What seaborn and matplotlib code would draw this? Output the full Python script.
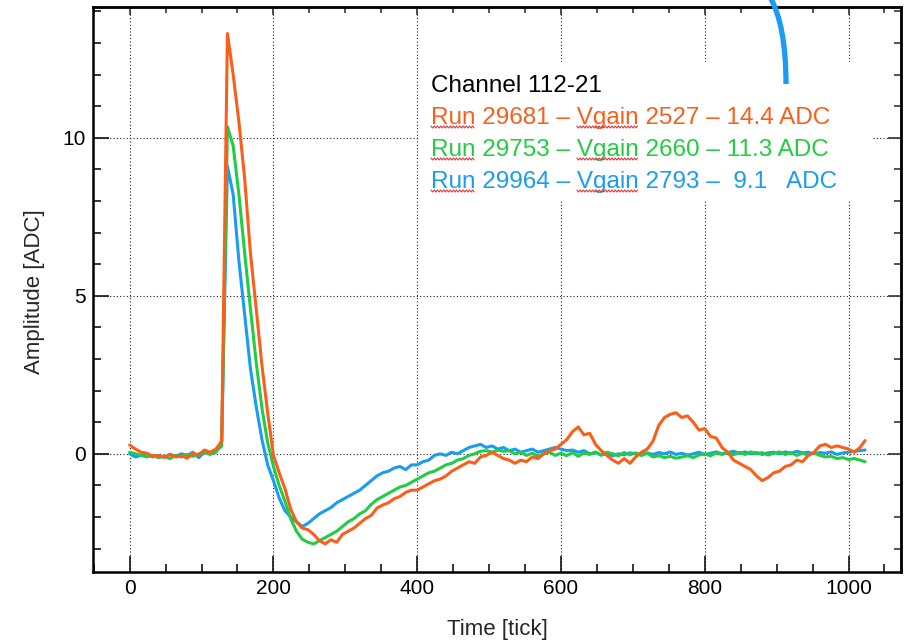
import numpy as np
import pandas as pd
import seaborn as sns
import matplotlib.pyplot as plt
from matplotlib.ticker import MultipleLocator
from matplotlib.lines import Line2D
from matplotlib.patches import Rectangle, PathPatch
from matplotlib.path import Path
from matplotlib.transforms import IdentityTransform

# sampled every 8 ticks, plus the last tick (1023)
tick = np.append(np.arange(0, 1024, 8), 1023)

amp_29681 = [
    0.28, 0.15, 0.05, 0.02, -0.08, -0.05, -0.12, -0.02,
    -0.10, -0.06, -0.14, 0.02, -0.04, 0.12, 0.05, 0.15,
    0.40, 13.30, 12.00, 10.50, 8.70, 6.35, 4.60, 2.80,
    1.30, -0.05, -0.60, -1.10, -1.75, -2.15, -2.35, -2.40,
    -2.55, -2.75, -2.85, -2.72, -2.80, -2.55, -2.45, -2.35,
    -2.20, -2.05, -1.95, -1.72, -1.62, -1.55, -1.42, -1.35,
    -1.22, -1.15, -1.15, -1.05, -0.95, -0.85, -0.80, -0.70,
    -0.55, -0.45, -0.35, -0.25, -0.30, -0.10, -0.05, 0.05,
    -0.05, -0.15, -0.20, -0.30, -0.20, -0.25, -0.10, -0.15,
    0.00, 0.10, 0.15, 0.30, 0.45, 0.70, 0.85, 0.60,
    0.65, 0.30, 0.10, -0.05, -0.20, -0.30, -0.15, -0.30,
    -0.10, 0.05, 0.15, 0.40, 0.90, 1.15, 1.25, 1.30,
    1.15, 1.20, 1.00, 0.75, 0.80, 0.55, 0.50, 0.20,
    0.05, -0.20, -0.30, -0.40, -0.50, -0.70, -0.85, -0.75,
    -0.60, -0.55, -0.40, -0.35, -0.20, -0.25, -0.05, 0.05,
    0.25, 0.30, 0.20, 0.25, 0.20, 0.15, 0.05, 0.20,
    0.42,
]
amp_29753 = [
    0.05, 0.00, -0.05, -0.10, -0.05, -0.12, -0.08, -0.15,
    -0.05, -0.10, -0.02, -0.08, 0.00, 0.05, -0.02, 0.08,
    0.25, 10.35, 9.75, 8.20, 6.35, 4.60, 2.90, 1.45,
    0.35, -0.40, -1.00, -1.50, -2.05, -2.45, -2.70, -2.80,
    -2.85, -2.75, -2.65, -2.55, -2.45, -2.30, -2.15, -2.05,
    -1.90, -1.80, -1.60, -1.45, -1.35, -1.25, -1.15, -1.05,
    -1.00, -0.90, -0.80, -0.70, -0.60, -0.55, -0.45, -0.35,
    -0.30, -0.20, -0.15, -0.05, 0.00, 0.08, 0.10, 0.05,
    0.12, 0.08, 0.10, 0.00, 0.05, -0.05, 0.02, -0.08,
    0.00, 0.05, -0.05, 0.02, -0.06, 0.04, -0.08, 0.03,
    -0.02, 0.06, -0.04, 0.05, 0.00, -0.06, 0.04, -0.03,
    0.03, -0.05, 0.02, -0.10, -0.06, -0.12, -0.08, -0.14,
    -0.10, -0.06, -0.12, -0.04, 0.00, -0.06, 0.03, -0.02,
    0.04, -0.03, 0.05, -0.02, 0.06, 0.00, 0.04, -0.04,
    0.02, 0.06, -0.02, 0.04, -0.05, 0.02, -0.04, 0.03,
    -0.05, -0.10, -0.08, -0.15, -0.12, -0.18, -0.15, -0.20,
    -0.25,
]
amp_29964 = [
    0.00, -0.10, -0.05, 0.00, -0.10, -0.05, -0.10, -0.02,
    -0.08, 0.00, -0.05, 0.05, -0.12, 0.05, 0.00, 0.05,
    0.40, 9.10, 8.20, 6.10, 4.40, 2.70, 1.50, 0.45,
    -0.35, -0.85, -1.40, -1.80, -2.00, -2.15, -2.30, -2.20,
    -2.05, -1.90, -1.80, -1.70, -1.55, -1.45, -1.35, -1.25,
    -1.15, -1.00, -0.85, -0.70, -0.60, -0.55, -0.45, -0.40,
    -0.50, -0.35, -0.35, -0.25, -0.20, -0.05, 0.00, -0.05,
    0.05, 0.00, 0.10, 0.20, 0.25, 0.30, 0.20, 0.25,
    0.15, 0.20, 0.10, 0.15, 0.05, 0.10, 0.15, 0.05,
    0.10, 0.15, 0.20, 0.15, 0.10, 0.12, 0.05, 0.10,
    0.00, 0.04, -0.04, 0.02, -0.06, 0.00, -0.03, 0.03,
    0.00, -0.04, 0.03, -0.02, 0.04, 0.00, 0.06, -0.02,
    0.02, -0.04, 0.00, 0.05, -0.03, 0.02, 0.06, 0.00,
    0.04, 0.08, 0.02, 0.06, 0.00, 0.04, -0.02, 0.03,
    0.05, 0.00, 0.06, 0.02, 0.08, 0.03, 0.05, 0.00,
    0.04, 0.02, 0.06, -0.02, 0.03, 0.05, 0.08, 0.10,
    0.12,
]

runs = ["29964", "29753", "29681"]          # drawing order, orange on top
colors = {"29681": "#FA5F1A", "29753": "#22CC44", "29964": "#1A9CF0"}

channel_text = "Channel 112-21"
legend_lines = [
    ("Run 29681 – Vgain 2527 – 14.4 ADC", "29681"),
    ("Run 29753 – Vgain 2660 – 11.3 ADC", "29753"),
    ("Run 29964 – Vgain 2793 –  9.1   ADC", "29964"),
]

df = pd.DataFrame({
    "tick": np.tile(tick, 3),
    "amp": np.concatenate([amp_29964, amp_29753, amp_29681]),
    "run": np.repeat(runs, len(tick)),
})

sns.set_style("white")
plt.rcParams["font.family"] = ["Liberation Sans", "DejaVu Sans"]

W, H = 910, 643
fig = plt.figure(figsize=(W / 100, H / 100), dpi=100)
ax = fig.add_axes([93 / W, 1 - 572 / H, (901 - 93) / W, (572 - 7) / H])

sns.lineplot(data=df, x="tick", y="amp", hue="run", hue_order=runs,
             palette=colors, linewidth=2.2, legend=False, estimator=None,
             sort=False, ax=ax)

ax.set_xlim(-51, 1073)
ax.set_ylim(-3.74, 14.14)
ax.xaxis.set_major_locator(MultipleLocator(200))
ax.xaxis.set_minor_locator(MultipleLocator(50))
ax.yaxis.set_major_locator(MultipleLocator(5))
ax.yaxis.set_minor_locator(MultipleLocator(1))
ax.grid(which="major", color="#222222", linestyle=(0, (1, 2)), linewidth=0.8)
for s in ax.spines.values():
    s.set_linewidth(1.8)
    s.set_color("black")
ax.tick_params(which="both", direction="in", bottom=True, left=True,
               top=False, right=False, width=1.1, labelsize=15, colors="black")
ax.tick_params(which="major", length=11.5, pad=5)
ax.tick_params(which="minor", length=5.8)

top = ax.secondary_xaxis("top")
top.xaxis.set_major_locator(MultipleLocator(200))
top.xaxis.set_minor_locator(MultipleLocator(50))
top.tick_params(which="both", direction="in", top=True, width=1.1,
                labeltop=False, labelbottom=False)
top.tick_params(which="major", length=5.8)
top.tick_params(which="minor", length=4.3)
right = ax.secondary_yaxis("right")
right.yaxis.set_major_locator(MultipleLocator(5))
right.yaxis.set_minor_locator(MultipleLocator(1))
right.tick_params(which="both", direction="in", right=True, width=1.1,
                  labelright=False, labelleft=False)
right.tick_params(which="major", length=9.4)
right.tick_params(which="minor", length=5.0)
for sec in (top, right):
    for s in sec.spines.values():
        s.set_linewidth(1.8)

ax.set_xlabel("Time [tick]", fontsize=16)
ax.set_ylabel("Amplitude [ADC]", fontsize=16)
ax.xaxis.set_label_coords(0.5, -0.083)
ax.yaxis.set_label_coords(-0.059, 0.497)

# white box behind the annotation text
fig.add_artist(Rectangle((420 / W, 1 - 200 / H), (873 - 420) / W, (200 - 62) / H,
                         transform=fig.transFigure, facecolor="white",
                         edgecolor="none", zorder=2))

fs = 17.5
x0 = 431
fig.text(x0 / W, 1 - 92 / H, channel_text, fontsize=fs, color="black",
         va="baseline", zorder=4)

renderer = fig.canvas.get_renderer()


def text_width(s):
    t = fig.text(0, 0, s, fontsize=fs)
    w = t.get_window_extent(renderer).width
    t.remove()
    return w


def squiggle(xa, xb, yb):
    xs = np.arange(xa, xb + 0.1, 1.6)
    ys = yb + np.where(np.arange(len(xs)) % 2 == 0, 1.0, -1.0)
    fig.add_artist(Line2D(xs, ys, transform=IdentityTransform(),
                          color="#E23A3A", linewidth=0.8, zorder=5))


for i, (line, run) in enumerate(legend_lines):
    base = 124 + 32 * i
    fig.text(x0 / W, 1 - base / H, line, fontsize=fs, color=colors[run],
             va="baseline", zorder=4)
    yb = H - base - 3
    squiggle(x0, x0 + text_width("Run"), yb)
    vstart = x0 + text_width(line.split("Vgain")[0])
    squiggle(vstart, vstart + text_width("Vgain"), yb)

# blue pen stroke at the top right
verts = [(770 / W, 1 + 3 / H), (786 / W, 1 - 25 / H), (786 / W, 1 - 84 / H)]
fig.add_artist(PathPatch(Path(verts, [Path.MOVETO, Path.CURVE3, Path.CURVE3]),
                         transform=fig.transFigure, facecolor="none",
                         edgecolor="#1A9CF0", linewidth=3.8, capstyle="butt",
                         zorder=6))

fig.savefig("out.png", dpi=100)
